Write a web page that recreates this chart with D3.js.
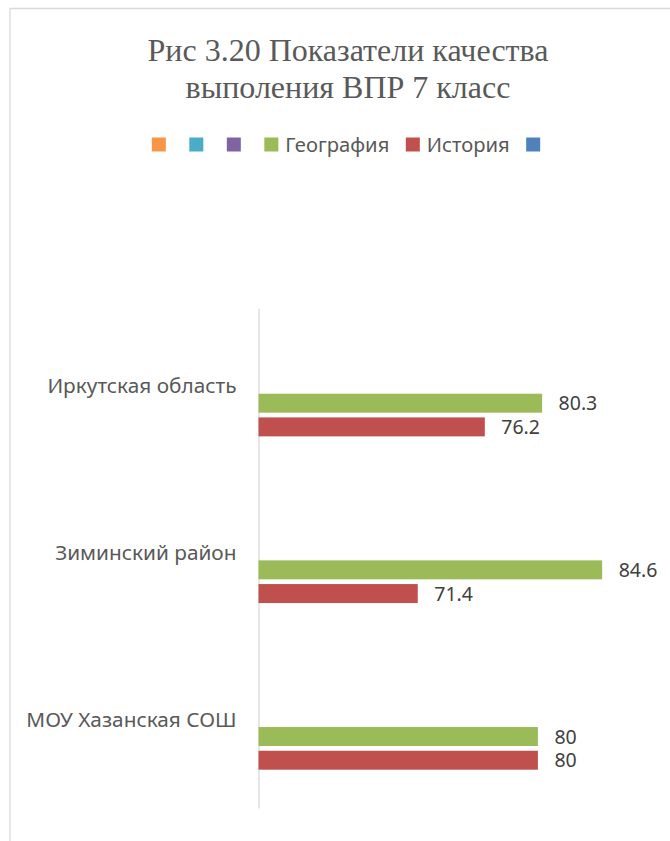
<!DOCTYPE html>
<html>
<head>
<meta charset="utf-8">
<script src="https://cdn.jsdelivr.net/npm/d3@7"></script>
<style>
  html, body { margin: 0; padding: 0; background: #fff; }
  svg { display: block; }
</style>
</head>
<body>
<svg id="chart" width="670" height="841"></svg>
<script>
// Categories (top to bottom) and series
const categories = ["Иркутская область", "Зиминский район", "МОУ Хазанская СОШ"];
const seriesNames = ["", "", "", "География", "История", ""];
const seriesColors = ["#F79646", "#4BACC6", "#8064A2", "#9BBB59", "#C0504D", "#4F81BD"];
const geographyValues = [80.3, 84.6, 80];
const historyValues = [76.2, 71.4, 80];
const xDomain = [60, 90];

const titleLines = ["Рис 3.20 Показатели качества", "выполения ВПР 7 класс"];

// Values per series index (empty series carry no data)
const seriesValues = [null, null, null, geographyValues, historyValues, null];

const svg = d3.select("#chart");
const sans = "'Noto Sans', 'Open Sans', sans-serif";

// Chart frame (top and left edges visible)
svg.append("path")
  .attr("d", "M10,841V8.5H670")
  .attr("fill", "none")
  .attr("stroke", "#D9D9D9")
  .attr("stroke-width", 1.3);

// Title
svg.append("g").selectAll("text")
  .data(titleLines)
  .join("text")
  .attr("x", 348)
  .attr("y", (d, i) => 61 + i * 37)
  .attr("text-anchor", "middle")
  .attr("font-family", "'Liberation Serif', 'Times New Roman', serif")
  .attr("font-size", 32)
  .attr("fill", "#595959")
  .text(d => d);

// Scales
const x = d3.scaleLinear().domain(xDomain).range([258.5, 677.6]);
const y0 = d3.scaleBand().domain(categories).range([308, 808]).padding(0);
const y1 = d3.scaleBand().domain(d3.range(seriesNames.length))
  .range([0, y0.bandwidth()]).paddingInner(0.2).paddingOuter(0.616);

// Category axis
const yAxis = svg.append("g")
  .attr("transform", `translate(${x.range()[0]},0)`)
  .call(d3.axisLeft(y0).tickSize(0).tickSizeOuter(0).tickPadding(22));
yAxis.select(".domain").attr("stroke", "#D9D9D9").attr("stroke-width", 1.3);
yAxis.selectAll("text")
  .attr("font-family", sans)
  .attr("font-size", 20.8)
  .attr("fill", "#595959")
  .attr("dy", "0.1em");

// Bars
const barData = [];
seriesValues.forEach((vals, si) => {
  if (!vals) return;
  vals.forEach((v, ci) => barData.push({ si, cat: categories[ci], v }));
});

const g = svg.append("g");
g.selectAll("rect")
  .data(barData)
  .join("rect")
  .attr("x", x(xDomain[0]))
  .attr("y", d => y0(d.cat) + y1(d.si))
  .attr("width", d => x(d.v) - x(xDomain[0]))
  .attr("height", y1.bandwidth())
  .attr("fill", d => seriesColors[d.si]);

// Data labels
g.selectAll("text")
  .data(barData)
  .join("text")
  .attr("x", d => x(d.v) + 16.5)
  .attr("y", d => y0(d.cat) + y1(d.si) + y1.bandwidth() / 2)
  .attr("dy", "0.36em")
  .attr("font-family", sans)
  .attr("font-size", 19.5)
  .attr("fill", "#404040")
  .text(d => d.v);

// Legend
const legend = svg.append("g");
const items = legend.selectAll("g")
  .data(seriesNames.map((n, i) => ({ n, i })))
  .join("g");
items.append("rect")
  .attr("width", 14).attr("height", 14)
  .attr("y", -7)
  .attr("fill", d => seriesColors[d.i]);
items.append("text")
  .attr("x", 21)
  .attr("dy", "0.36em")
  .attr("font-family", sans)
  .attr("font-size", 20.2)
  .attr("fill", "#595959")
  .text(d => d.n);
let cursor = 0;
items.each(function () {
  const t = d3.select(this).select("text").node();
  const w = t.textContent ? t.getComputedTextLength() : 0;
  d3.select(this).attr("transform", `translate(${cursor},0)`);
  cursor += 21 + w + 16.5;
});
const legendWidth = cursor - 16.5 - 7;
legend.attr("transform", `translate(${346 - legendWidth / 2},144.5)`);
</script>
</body>
</html>
